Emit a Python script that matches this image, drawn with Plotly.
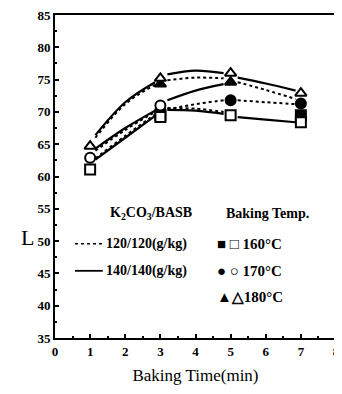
import plotly.graph_objects as go

# ---- data ----
marker_x = [1, 3, 5, 7]
# visible markers (None = hidden behind another marker)
sq_filled = [None, 69.5, None, 69.5]
sq_open = [61.1, 69.2, 69.5, 68.4]
ci_filled = [None, 70.2, 71.8, 71.3]
ci_open = [62.9, 71.0, None, None]
tr_filled = [None, 74.3, 74.6, None]
tr_open = [64.7, 75.2, 76.0, 72.9]

curve_x = [1.15, 2, 2.85, None, 3.2, 4, 4.8, None, 5.2, 6, 6.85]
curve_solid_top = [66.4, 71.5, 74.6, None, 75.8, 76.4, 76.0, None, 75.3, 74.4, 73.3]
curve_dot_top = [66.0, 71.2, 74.2, None, 74.9, 75.3, 75.2, None, 74.6, 73.4, 72.0]
curve_solid_mid = [64.3, 67.5, 70.2, None, 71.8, 73.3, 74.3, None, None, None, None]
curve_dot_mid = [64.0, 67.2, 70.0, None, 70.4, 71.2, 71.8, None, 71.8, 71.5, 71.2]
curve_solid_low = [62.6, 66.0, 69.4, None, 70.3, 70.2, 69.7, None, 69.2, 68.8, 68.4]
curve_dot_low = [62.8, 66.3, 69.6, None, 70.6, 70.5, 70.0, None, None, None, None]

x_ticks = [0, 1, 2, 3, 4, 5, 6, 7, 8]
y_ticks = [35, 40, 45, 50, 55, 60, 65, 70, 75, 80, 85]

fig = go.Figure()

def add_curve(y, dash):
    fig.add_trace(go.Scatter(x=curve_x, y=y, mode="lines", line_shape="spline",
                             connectgaps=False,
                             line=dict(color="black", width=2.2 if dash == "solid" else 2, dash=dash),
                             showlegend=False, hoverinfo="skip"))

add_curve(curve_solid_top, "solid")
add_curve(curve_dot_top, "dot")
add_curve(curve_solid_mid, "solid")
add_curve(curve_dot_mid, "dot")
add_curve(curve_solid_low, "solid")
add_curve(curve_dot_low, "dot")

def add_markers(y, symbol, filled):
    fig.add_trace(go.Scatter(x=marker_x, y=y, mode="markers",
                             marker=dict(symbol=symbol, size=10,
                                         color="black" if filled else "white",
                                         line=dict(color="black", width=2)),
                             showlegend=False, hoverinfo="skip"))

add_markers(sq_filled, "square", True)
add_markers(ci_filled, "circle", True)
add_markers(tr_filled, "triangle-up", True)
add_markers(sq_open, "square", False)
add_markers(ci_open, "circle", False)
add_markers(tr_open, "triangle-up", False)

font_serif = "Liberation Serif, Times New Roman, serif"

# legend drawn inside the plot
fig.add_shape(type="line", x0=0.57, x1=1.36, y0=49.6, y1=49.6,
              line=dict(color="black", width=1.5, dash="dot"))
fig.add_shape(type="line", x0=0.57, x1=1.36, y0=45.4, y1=45.4,
              line=dict(color="black", width=1.8))
ann = [
    (2.72, 54.3, "<b>K<sub>2</sub>CO<sub>3</sub>/BASB</b>", "center", 14),
    (6.05, 54.3, "<b>Baking Temp.</b>", "center", 14),
    (1.40, 49.6, "<b>120/120(g/kg)</b>", "left", 14),
    (1.40, 45.4, "<b>140/140(g/kg)</b>", "left", 14),
    (4.55, 49.6, "<b>■ □ 160°C</b>", "left", 15),
    (4.55, 45.4, "<b>● ○ 170°C</b>", "left", 15),
    (4.55, 41.3, "<b>▲△180°C</b>", "left", 15),
]
for x, y, t, al, fs in ann:
    fig.add_annotation(x=x, y=y, text=t, showarrow=False, xanchor=al, yanchor="middle",
                       font=dict(family=font_serif, size=fs, color="black"))

fig.add_annotation(x=0, xref="paper", xshift=-28, xanchor="center",
                   y=0.31, yref="paper", yanchor="middle", text="L", showarrow=False,
                   font=dict(family=font_serif, size=22, color="black"))

axis_common = dict(showline=True, linecolor="black", linewidth=2, mirror=True,
                   ticks="inside", ticklen=4, tickwidth=1.5, tickcolor="black",
                   showgrid=False, zeroline=False, automargin=False,
                   ticklabeloverflow="allow",
                   tickfont=dict(family=font_serif, size=13, color="black", weight="bold"))

fig.update_xaxes(range=[0, 8], tickvals=x_ticks, ticktext=[str(v) for v in x_ticks],
                 minor=dict(ticks="inside", ticklen=2, dtick=0.5, tickcolor="black"),
                 title=dict(text="Baking Time(min)", font=dict(family=font_serif, size=17, color="black"),
                            standoff=12),
                 **axis_common)
fig.update_yaxes(range=[35, 85], tickvals=y_ticks, ticktext=[str(v) for v in y_ticks],
                 minor=dict(ticks="inside", ticklen=2, dtick=2.5, tickcolor="black"),
                 **axis_common)

fig.update_layout(width=334, height=386, margin=dict(l=47, r=6, t=7, b=56),
                  plot_bgcolor="white", paper_bgcolor="white", showlegend=False)

fig.write_html("out.html")
